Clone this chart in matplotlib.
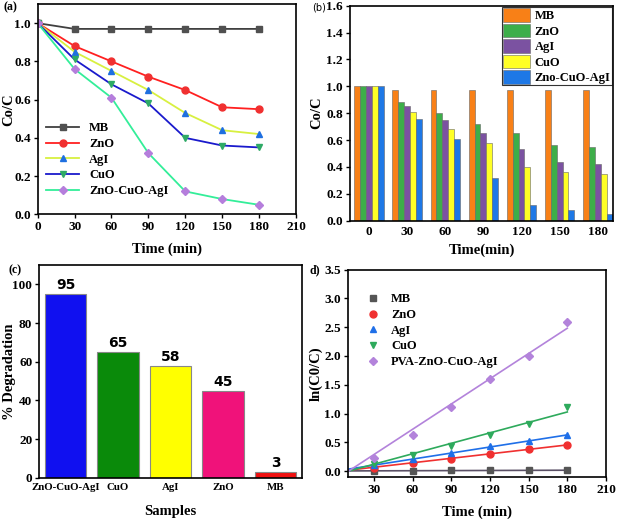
"""
plot.py
Four-panel photocatalytic degradation figure (Co/C curves, bars, % degradation, kinetics).
"""

import numpy as np
import matplotlib
matplotlib.use("Agg")
import matplotlib.pyplot as plt

plt.rcParams['font.family'] = ['Liberation Serif', 'DejaVu Serif']
plt.rcParams['font.weight'] = 'bold'
plt.rcParams['axes.labelweight'] = 'bold'
plt.rcParams['axes.linewidth'] = 1.2

# ---- data ----
time_min = [0, 30, 60, 90, 120, 150, 180]
samples = ['MB', 'ZnO', 'AgI', 'CuO', 'ZnO-CuO-AgI']
c_mb = [1.0, 0.97, 0.97, 0.97, 0.97, 0.97, 0.97]
c_zno = [1.0, 0.88, 0.80, 0.72, 0.65, 0.56, 0.55]
c_agi = [1.0, 0.85, 0.75, 0.65, 0.53, 0.44, 0.42]
c_cuo = [1.0, 0.81, 0.68, 0.58, 0.40, 0.36, 0.35]
c_comp = [1.0, 0.76, 0.61, 0.32, 0.12, 0.08, 0.05]

bar_labels = ['MB', 'ZnO', 'AgI', 'CuO', 'Zno-CuO-AgI']

deg_samples = ['ZnO-CuO-AgI', 'CuO', 'AgI', 'ZnO', 'MB']
deg_values = [95, 65, 58, 45, 3]

kin_labels = ['MB', 'ZnO', 'AgI', 'CuO', 'PVA-ZnO-CuO-AgI']
ln_mb = [0.0, 0.01, 0.012, 0.013, 0.014, 0.015, 0.016]
ln_zno = [0.0, 0.06, 0.15, 0.22, 0.30, 0.38, 0.46]
ln_agi = [0.0, 0.10, 0.22, 0.31, 0.43, 0.52, 0.63]
ln_cuo = [0.0, 0.12, 0.28, 0.43, 0.63, 0.82, 1.11]
ln_comp = [0.0, 0.23, 0.63, 1.11, 1.60, 2.00, 2.59]

fig = plt.figure(figsize=(6.2, 5.19), dpi=100)

TICK_FS = 9.5
LABEL_FS = 10.5


def style_ticks(ax, size=TICK_FS):
    ax.tick_params(direction='out', length=3, width=1, labelsize=size, pad=2)
    for lab in ax.get_xticklabels() + ax.get_yticklabels():
        lab.set_fontweight('bold')


# ---- (a) Co/C vs time ----
ax_a = fig.add_axes([0.0608, 0.587, 0.4166, 0.4052])
series_a = [
    (c_mb, '#404040', '#505050', 's', 'MB'),
    (c_zno, '#FF2020', '#F03030', 'o', 'ZnO'),
    (c_agi, '#D8F040', '#1E6FE0', '^', 'AgI'),
    (c_cuo, '#1A1ACC', '#2EAA66', 'v', 'CuO'),
    (c_comp, '#33EE99', '#B57EDC', 'D', 'ZnO-CuO-AgI'),
]
for vals, lc, mc, mk, lab in series_a:
    ax_a.plot(time_min, vals, color=lc, lw=1.3, marker=mk, ms=5 if mk != 'D' else 4,
              mfc=mc, mec=mc, label=lab)
ax_a.set_xlim(0, 210)
ax_a.set_ylim(0, 1.1)
ax_a.set_xticks(range(0, 211, 30))
ax_a.set_yticks(np.arange(0, 1.01, 0.2))
ax_a.set_yticklabels([f'{v:.1f}' for v in np.arange(0, 1.01, 0.2)])
ax_a.set_xlabel('Time (min)', fontsize=LABEL_FS)
ax_a.set_ylabel('Co/C', fontsize=LABEL_FS)
ax_a.xaxis.set_label_coords(0.5, -0.133)
ax_a.yaxis.set_label_coords(-0.088, 0.5)
style_ticks(ax_a)
ax_a.legend(loc='lower left', bbox_to_anchor=(0.0, 0.04), frameon=False,
            handlelength=2.6, labelspacing=0.3, borderaxespad=0.3,
            prop={'weight': 'bold', 'size': 9})
fig.text(0.005, 0.985, '(a)', fontsize=8.5, fontweight='bold', va='center')

# ---- (b) grouped bars ----
ax_b = fig.add_axes([0.5645, 0.5748, 0.4242, 0.4143])
bar_colors = ['#F88017', '#3DAE49', '#7B52A1', '#FFFF26', '#1E78E6']
groups = np.arange(len(time_min))
w = 0.155
for i, (vals, col, lab) in enumerate(zip([c_mb, c_zno, c_agi, c_cuo, c_comp], bar_colors, bar_labels)):
    ax_b.bar(groups + (i - 2) * w, vals, width=w, color=col, edgecolor='#666666', lw=0.4, label=lab)
ax_b.set_xlim(-0.5, 6.4)
ax_b.set_ylim(0, 1.6)
ax_b.set_xticks(groups)
ax_b.set_xticklabels([str(t) for t in time_min])
ax_b.set_yticks(np.arange(0, 1.61, 0.2))
ax_b.set_yticklabels([f'{v:.1f}' for v in np.arange(0, 1.61, 0.2)])
ax_b.set_xlabel('Time(min)', fontsize=LABEL_FS)
ax_b.set_ylabel('Co/C', fontsize=LABEL_FS)
ax_b.xaxis.set_label_coords(0.5, -0.104)
ax_b.yaxis.set_label_coords(-0.103, 0.5)
style_ticks(ax_b)
ax_b.tick_params(axis='x', length=0, pad=4)
leg_b = ax_b.legend(loc='upper right', frameon=True, fancybox=False, edgecolor='black',
                    handlelength=2.1, handleheight=1.3, labelspacing=0.12, borderpad=0.1,
                    borderaxespad=0.1, handletextpad=0.4, prop={'weight': 'bold', 'size': 9})
leg_b.get_frame().set_linewidth(0.8)
fig.text(0.503, 0.985, '(b)', fontsize=7, family='DejaVu Sans', fontweight='normal', va='center')

# ---- (c) % degradation ----
ax_c = fig.add_axes([0.0634, 0.0796, 0.4232, 0.4098])
deg_colors = ['#1010F0', '#0A8A0A', '#FFFF00', '#F0127A', '#F01010']
xc = np.arange(len(deg_samples))
bars_c = ax_c.bar(xc, deg_values, width=0.79, color=deg_colors, edgecolor='#888888', lw=0.8)
for b, v in zip(bars_c, deg_values):
    ax_c.text(b.get_x() + b.get_width() / 2, v + 0.8, str(v), ha='center', va='bottom',
              fontsize=10, fontweight='bold', family='DejaVu Sans')
ax_c.set_xlim(-0.5, 4.5)
ax_c.set_ylim(0, 110)
ax_c.set_xticks(xc)
ax_c.set_xticklabels(deg_samples)
ax_c.set_yticks(range(0, 101, 20))
ax_c.set_xlabel('Samples', fontsize=LABEL_FS)
ax_c.set_ylabel('% Degradation', fontsize=LABEL_FS)
ax_c.xaxis.set_label_coords(0.5, -0.127)
ax_c.yaxis.set_label_coords(-0.088, 0.5)
style_ticks(ax_c)
ax_c.tick_params(axis='x', length=0, labelsize=7.8, pad=4)
fig.text(0.014, 0.48, '(c)', fontsize=8.5, fontweight='bold', va='center')

# ---- (d) kinetics ----
ax_d = fig.add_axes([0.5613, 0.0809, 0.4161, 0.3998])
series_d = [
    (ln_mb, '#5A5066', '#555555', 's', kin_labels[0]),
    (ln_zno, '#F03030', '#F03030', 'o', kin_labels[1]),
    (ln_agi, '#1F6FE8', '#1F6FE8', '^', kin_labels[2]),
    (ln_cuo, '#2EAA5C', '#2EAA5C', 'v', kin_labels[3]),
    (ln_comp, '#B383DB', '#B383DB', 'D', kin_labels[4]),
]
t_arr = np.array(time_min)
for vals, lc, mc, mk, lab in series_d:
    k, b0 = np.polyfit(t_arr, vals, 1)
    ax_d.plot(t_arr, k * t_arr + b0, color=lc, lw=1.2)
    ax_d.plot(t_arr, vals, ls='none', marker=mk, ms=5 if mk != 'D' else 4.5,
              color=mc, label=lab)
ax_d.set_xlim(10, 210)
ax_d.set_ylim(-0.1, 3.5)
ax_d.set_xticks(range(30, 211, 30))
ax_d.set_yticks(np.arange(0, 3.51, 0.5))
ax_d.set_yticklabels([f'{v:.1f}' for v in np.arange(0, 3.51, 0.5)])
ax_d.set_xlabel('Time (min)', fontsize=LABEL_FS)
ax_d.set_ylabel('ln(C0/C)', fontsize=LABEL_FS)
ax_d.xaxis.set_label_coords(0.5, -0.135)
ax_d.yaxis.set_label_coords(-0.097, 0.5)
style_ticks(ax_d)
ax_d.legend(loc='upper left', bbox_to_anchor=(0.05, 0.91), frameon=False, handlelength=1.2,
            labelspacing=0.3, borderaxespad=0.0, prop={'weight': 'bold', 'size': 9})
fig.text(0.500, 0.48, 'd)', fontsize=8.5, fontweight='bold', va='center')

fig.savefig('out.png', dpi=100)
